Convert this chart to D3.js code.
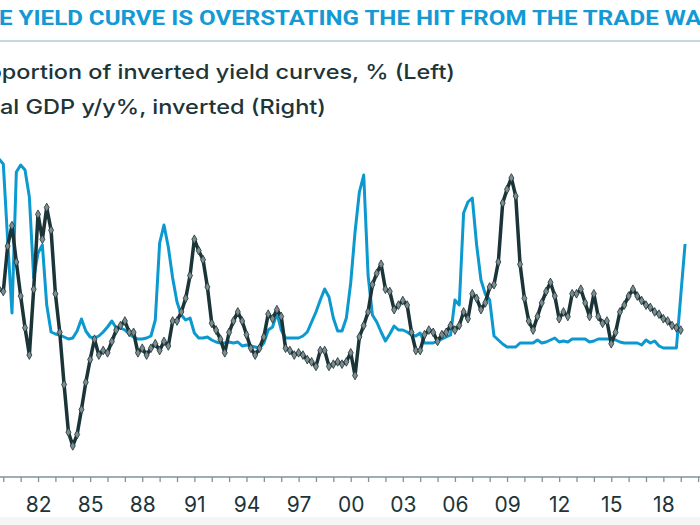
<!DOCTYPE html>
<html><head><meta charset="utf-8">
<script src="https://cdn.jsdelivr.net/npm/d3@7"></script>
<style>
html,body{margin:0;padding:0;background:#fff;overflow:hidden;}
svg{display:block;}
</style></head>
<body>
<script>
// ---- data ----
const title = "THE YIELD CURVE IS OVERSTATING THE HIT FROM THE TRADE WAR";
const legendLabels = ["Proportion of inverted yield curves, % (Left)", "Real GDP y/y%, inverted (Right)"];
const firstQuarter = 1979.75; // Q4 1979, quarterly data
const invertedShare = [
95.5,93,55,18.5,89,92.5,90,76.5,36,48.5,
52.5,22.5,9,8,7.5,6.5,5.5,6,9.5,15.5,
9.5,6.5,6,7,9,11.5,14.5,11,11,10,
8,6.5,5.5,5.5,6,7,15,53.5,62.5,51.5,
36,24,17.5,15,16,8.5,6,6,6.5,5,
4,3.5,3.5,4,3.5,4,2,2.5,2,1.5,
1,3.5,10,11.5,18.5,10,6,6,6,6,
7,9,14,19,25,30.5,26.5,16,9.5,9.5,
16,33.5,59,79,87.5,37.5,17.5,14,9,4.5,
8,12,10,10,9,7.5,7,8.5,3.5,3.5,
3.5,4.5,5.5,6.5,7.5,25,22.5,68.5,74,76,
52.5,35,28,25,7,5,3,1.5,1.5,1.5,
3.5,3.5,3.5,3.5,5,3.5,4,5,6,4,
4.5,4,5.5,5.5,5.5,5.5,4,4.5,5.5,5.5,
5.5,5.5,5,4,3.5,3.5,3.5,3.5,2.5,5,
3.5,4.5,2,1,1,1,1,27,53];
const gdpYoY = [
0.9,1.0,-1.0,-1.9,-0.3,1.2,2.6,3.8,0.9,-2.4,
-1.3,-2.7,-1.7,1.1,2.8,5.1,7.2,7.8,7.3,6.2,
5.0,4.0,3.1,3.8,3.6,3.7,3.2,2.7,2.5,2.3,
2.8,2.8,3.7,3.5,3.8,3.5,3.3,3.6,3.2,3.4,
2.3,2.3,1.9,1.3,0.3,-1.3,-0.8,-0.4,0.8,2.4,
2.7,3.1,3.7,2.8,2.3,1.9,2.3,2.9,3.5,3.8,
3.5,3.0,2.0,2.2,1.8,2.1,3.5,3.6,3.8,3.7,
3.8,4.0,4.1,4.3,3.6,3.6,4.3,4.2,4.1,4.2,
4.1,3.7,4.7,3.0,2.5,1.9,0.7,0.2,-0.2,0.9,
1.0,1.8,1.6,1.4,1.6,2.8,3.6,3.6,2.9,2.7,
2.8,3.2,2.9,2.8,2.5,2.7,2.5,1.9,2.2,1.1,
1.3,1.8,1.5,0.8,0.7,-0.3,-2.9,-3.5,-4.0,-3.2,
-0.2,1.3,2.3,2.7,2.1,1.5,1.0,0.6,1.2,2.2,
1.9,2.1,1.1,1.1,0.9,1.5,2.1,1.1,2.1,2.4,
2.3,3.3,2.8,1.9,1.6,1.2,0.9,1.2,1.4,1.6,
1.7,1.9,2.0,2.2,2.3,2.5,2.6,2.7];
const tickYears = d3.range(1980, 2021);
const labelYears = [1982,1985,1988,1991,1994,1997,2000,2003,2006,2009,2012,2015,2018];
const labelText = ["82","85","88","91","94","97","00","03","06","09","12","15","18"];

// ---- drawing ----
const W = 700, H = 525;
const svg = d3.select("body").append("svg").attr("width", W).attr("height", H);

svg.append("rect").attr("x",0).attr("y",517).attr("width",W).attr("height",H-517).attr("fill","#f5f5f5");

const x = d3.scaleLinear().domain([1980, 2020]).range([3.3, 698.1]);
const yL = d3.scaleLinear().domain([0, 100]).range([350, 150]);
const yR = d3.scaleLinear().domain([-4, 8]).range([178, 450.4]);

// title (the source image is a crop, so the title runs past both edges)
svg.append("text").attr("x", -33).attr("y", 25)
  .attr("font-family", "Roboto, 'Noto Sans', sans-serif").attr("font-weight", 700)
  .attr("font-size", 20).attr("fill", "#1399d3")
  .attr("textLength", 750).attr("lengthAdjust", "spacingAndGlyphs")
  .text(title);
svg.append("line").attr("x1",0).attr("x2",W).attr("y1",41).attr("y2",41)
  .attr("stroke","#c3d8e2").attr("stroke-width",2);

// legend texts (cut at the left edge, like the source crop)
const legStart = [-36, -29];
const legLen = [491, 355];
const legY = [79, 114];
legendLabels.forEach((t,i)=>{
  svg.append("text").attr("x", legStart[i]).attr("y", legY[i])
    .attr("font-family","Inter, 'Open Sans', sans-serif").attr("font-size",20)
    .attr("font-weight",500)
    .attr("textLength", legLen[i]).attr("lengthAdjust","spacingAndGlyphs")
    .attr("fill","#1d3538").text(t);
});

const quarters = invertedShare.map((d,i)=> firstQuarter + i*0.25);

// blue line
svg.append("path")
  .datum(invertedShare)
  .attr("fill","none").attr("stroke","#0b99cf").attr("stroke-width",3)
  .attr("stroke-linejoin","round")
  .attr("d", d3.line().x((d,i)=>x(quarters[i])).y(d=>yL(d)));

// dark line
svg.append("path")
  .datum(gdpYoY)
  .attr("fill","none").attr("stroke","#1b3438").attr("stroke-width",3.5)
  .attr("stroke-linejoin","round")
  .attr("d", d3.line().x((d,i)=>x(quarters[i])).y(d=>yR(d)));

svg.append("g").selectAll("path").data(gdpYoY).join("path")
  .attr("transform",(d,i)=>`translate(${x(quarters[i])},${yR(d)})`)
  .attr("d", d3.symbol().type(d3.symbolDiamond).size(22))
  .attr("fill","#7f8c8e").attr("stroke","#1b3438").attr("stroke-width",0.8);

// x axis
const axis = d3.axisBottom(x)
  .tickValues(tickYears)
  .tickSize(5).tickSizeOuter(0).tickPadding(15)
  .tickFormat(d => { const k = labelYears.indexOf(d); return k >= 0 ? labelText[k] : ""; });
const gx = svg.append("g").attr("transform","translate(0,477)").call(axis);
gx.select(".domain").attr("d","M0,0H700").attr("stroke","#7f9496").attr("stroke-width",1.6);
gx.selectAll(".tick line").attr("stroke","#7f9496").attr("stroke-width",1.3);
gx.selectAll(".tick text").attr("font-family","Inter, Roboto, sans-serif")
  .attr("font-size",21).attr("fill","#1d3538");
</script>
</body></html>
